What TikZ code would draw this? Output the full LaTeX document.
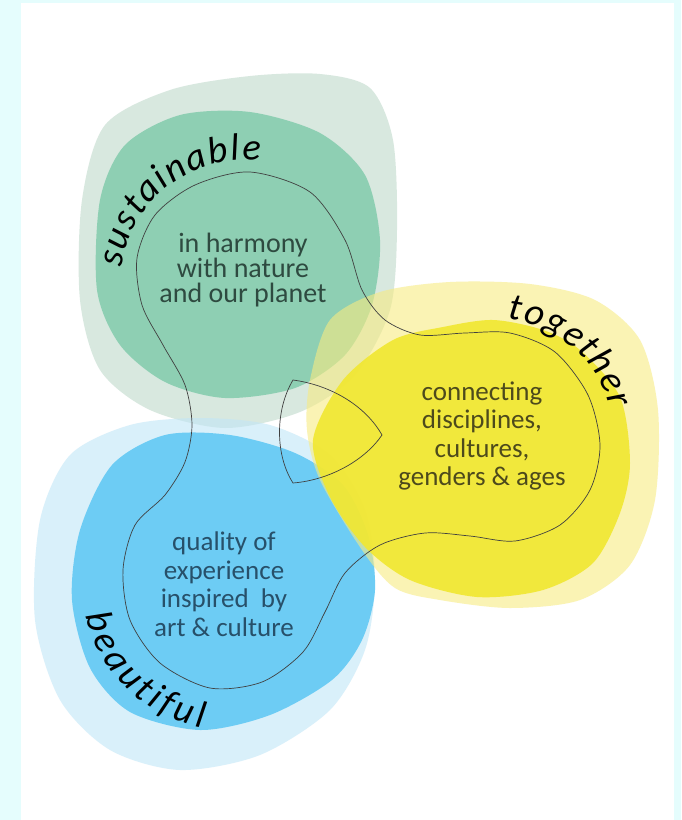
\documentclass[tikz,border=0pt]{standalone}
\usepackage{fontspec}
\setmainfont{Carlito}
\usetikzlibrary{decorations.text}

\definecolor{bgcyan}{RGB}{229,253,253}
\definecolor{palegreen}{RGB}{190,217,203}
\definecolor{leafgreen}{RGB}{135,205,175}
\definecolor{paleyellow}{RGB}{247,235,130}
\definecolor{sunyellow}{RGB}{241,231,47}
\definecolor{paleblue}{RGB}{193,230,247}
\definecolor{skyblue}{RGB}{98,201,244}
\definecolor{greentext}{RGB}{46,74,64}
\definecolor{yellowtext}{RGB}{77,74,28}
\definecolor{bluetext}{RGB}{39,80,106}
\newcommand{\wordfont}{\fontsize{38}{38}\selectfont\itshape}

\begin{document}
\begin{tikzpicture}[x=1pt,y=-1pt,
  outerblob/.style={fill opacity=0.6},
  innerblob/.style={fill opacity=0.9},
  blurb/.style={align=center,font=\fontsize{27}{28.5}\selectfont},
  outline/.style={draw=black!75,line width=0.7pt},
  curved/.style={decorate,decoration={text along path,text align={fit to path},text={|\wordfont|#1}}}]

	\useasboundingbox (0,0) rectangle (681,820);
	\fill[bgcyan] (0,0) rectangle (681,820);
	\fill[white] (21,3) rectangle (674,820);

	% sustainable
	\fill[palegreen,outerblob] plot[smooth cycle] coordinates {(82,200) (105,125) (170,90) (250,76) (320,74) (370,88) (393,140) (397,230) (390,310) (355,375) (300,412) (225,428) (150,410) (100,370) (80,300)};
	\fill[leafgreen,innerblob] plot[smooth cycle] coordinates {(100,200) (125,145) (180,115) (250,112) (320,133) (365,175) (380,240) (372,305) (345,355) (295,388) (225,398) (165,382) (120,345) (97,290)};

	% beautiful
	\fill[paleblue,outerblob] plot[smooth cycle] coordinates {(40,520) (70,455) (130,425) (200,418) (270,425) (330,455) (365,510) (375,580) (365,650) (330,710) (260,755) (180,770) (110,750) (60,700) (35,620)};
	\fill[skyblue,innerblob] plot[smooth cycle] coordinates {(80,530) (112,465) (165,435) (230,435) (295,453) (343,485) (368,535) (375,590) (362,640) (332,680) (270,715) (200,730) (130,712) (90,668) (72,600)};

	% together
	\fill[paleyellow,outerblob] plot[smooth cycle] coordinates {(310,380) (330,320) (380,292) (450,282) (530,284) (595,300) (640,340) (658,410) (655,500) (630,565) (580,600) (510,608) (440,600) (395,588) (362,550) (320,480) (307,430)};
	\fill[sunyellow,innerblob] plot[smooth cycle] coordinates {(313,440) (343,380) (393,340) (443,327) (493,320) (543,330) (580,350) (620,397) (630,463) (620,513) (593,563) (543,590) (477,597) (410,580) (365,547) (330,497)};

	% thin outline
	\draw[outline] plot[smooth cycle] coordinates {(250,172) (195,185) (155,215) (137,258) (142,305) (163,345) (185,385) (192,425) (185,462) (165,495) (135,525) (123,570) (130,620) (160,663) (210,688) (262,682) (303,652) (325,612) (345,573) (380,545) (425,533) (470,536) (515,541) (560,525) (590,490) (600,445) (588,395) (555,352) (510,333) (465,333) (420,335) (385,320) (362,290) (345,240) (310,192)};
	\draw[outline] (293,380) .. controls (330,385) and (365,405) .. (382,435)
		.. controls (365,460) and (330,480) .. (293,483)
		.. controls (275,455) and (275,410) .. cycle;

	\node[blurb,text=greentext,font=\fontsize{28}{25}\selectfont] (harmony) at (243,270) {in harmony\\with nature\\and our planet};
	\node[blurb,text=yellowtext] (connecting) at (482,436) {connecting\\disciplines,\\cultures,\\genders \& ages};
	\node[blurb,text=bluetext] (quality) at (224,584) {quality of\\experience\\inspired~ by\\art \& culture};

	\path[curved=sustainable] (245,285) ++(188:125) arc (188:277:125);
	\path[curved=together] (493,440) ++(277:122) arc (277:345:122);
	\path[curved=beautiful] (228,585) ++(168:145) arc (168:100:145);

\end{tikzpicture}
\end{document}
